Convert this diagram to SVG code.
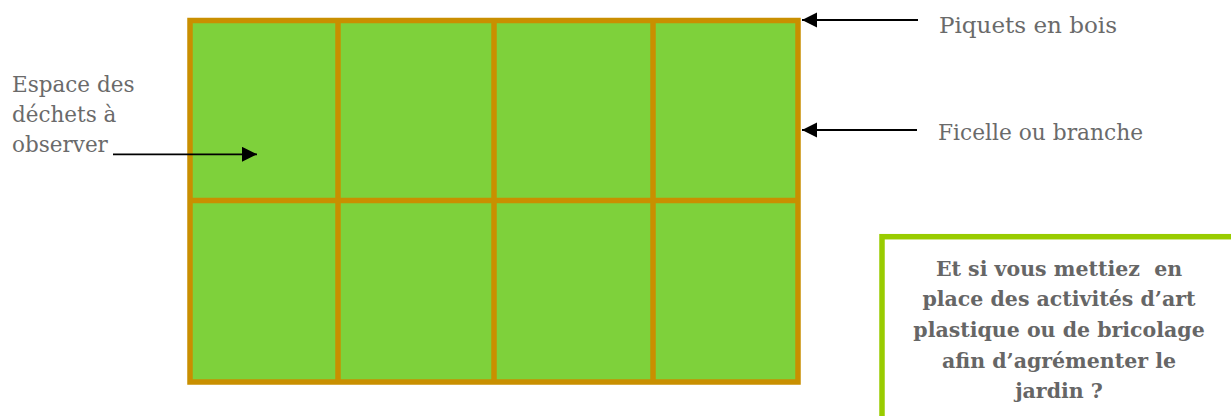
<svg xmlns="http://www.w3.org/2000/svg" width="1231" height="416" viewBox="0 0 1231 416">
  <defs>
    <marker id="ah" markerWidth="16" markerHeight="16" refX="15" refY="7.5" orient="auto" markerUnits="userSpaceOnUse">
      <path d="M0,0 L15,7.5 L0,15 Z" fill="#000"/>
    </marker>
  </defs>
  <style>
    .grid { fill: none; stroke: #C98F00; stroke-width: 5.5; }
    .lbl { font-family: "DejaVu Serif", "Liberation Serif", serif; font-size: 21.5px; fill: #6a6a6a; }
    .bold { font-family: "DejaVu Serif", "Liberation Serif", serif; font-size: 20.5px; font-weight: bold; fill: #666666; text-anchor: middle; white-space: pre; }
    .arr { stroke: #000; stroke-width: 1.8; fill: none; marker-end: url(#ah); }
  </style>
  <rect width="1231" height="416" fill="#ffffff"/>

  <g id="garden">
    <rect x="190" y="20.5" width="608" height="361.5" fill="#7ED13B"/>
    <rect class="grid" x="190" y="20.5" width="608" height="361.5"/>
    <line class="grid" x1="338" y1="20.5" x2="338" y2="382"/>
    <line class="grid" x1="494" y1="20.5" x2="494" y2="382"/>
    <line class="grid" x1="653" y1="20.5" x2="653" y2="382"/>
    <line class="grid" x1="190" y1="200.5" x2="798" y2="200.5"/>
  </g>

  <g id="label-piquets">
    <text class="lbl" x="939" y="33" textLength="178" lengthAdjust="spacingAndGlyphs">Piquets en bois</text>
  </g>
  <g id="label-ficelle">
    <text class="lbl" x="938" y="140" textLength="205" lengthAdjust="spacingAndGlyphs">Ficelle ou branche</text>
  </g>
  <g id="label-espace">
    <text class="lbl" x="12" y="92">Espace des</text>
    <text class="lbl" x="12" y="122">déchets à</text>
    <text class="lbl" x="12" y="152">observer</text>
  </g>

  <g id="note">
    <rect x="882" y="236.7" width="360" height="200" fill="#ffffff" stroke="#99CC00" stroke-width="5.5"/>
    <text class="bold" x="1059" y="275.5" xml:space="preserve">Et si vous mettiez  en</text>
    <text class="bold" x="1059" y="306">place des activités d’art</text>
    <text class="bold" x="1059" y="336.5">plastique ou de bricolage</text>
    <text class="bold" x="1059" y="367.5">afin d’agrémenter le</text>
    <text class="bold" x="1059" y="398">jardin ?</text>
  </g>

  <g id="connectors">
    <line class="arr" x1="918" y1="20" x2="802" y2="20"/>
    <line class="arr" x1="917" y1="130" x2="802" y2="130"/>
    <line class="arr" x1="113" y1="154.3" x2="257" y2="154.3"/>
  </g>
</svg>
